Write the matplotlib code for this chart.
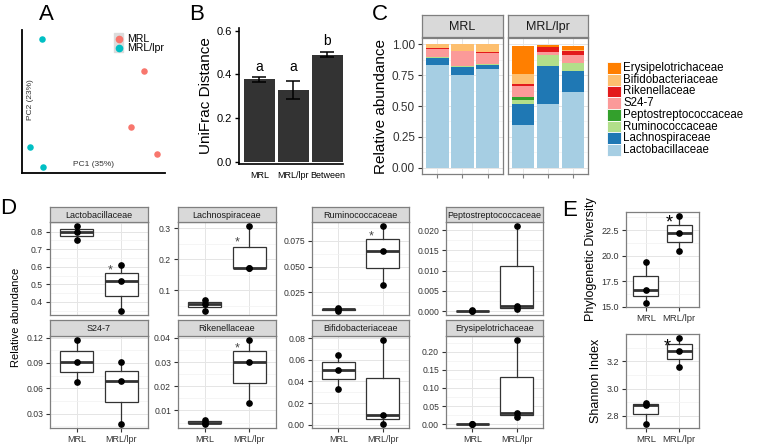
import numpy as np
import matplotlib.pyplot as plt
from matplotlib.patches import Rectangle
from matplotlib.lines import Line2D
from matplotlib import transforms

plt.rcParams['font.family'] = ['Liberation Sans', 'DejaVu Sans']

# ---------------------------------------------------------------------------
# data
# ---------------------------------------------------------------------------
# A: PCoA scores
pc1_mrl = [0.175, 0.13, 0.22]
pc2_mrl = [0.105, -0.09, -0.185]
pc1_lpr = [-0.19, -0.23, -0.185]
pc2_lpr = [0.22, -0.16, -0.23]

# B: UniFrac distances
groups_b = ['MRL', 'MRL/lpr', 'Between']
unifrac_mean = [0.377, 0.329, 0.490]
unifrac_err = [0.012, 0.042, 0.011]
sig_letters = ['a', 'a', 'b']
letter_y = [0.40, 0.40, 0.52]

# C / D: relative abundance per family, 3 mice per strain
families = ['Lactobacillaceae', 'Lachnospiraceae', 'Ruminococcaceae',
            'Peptostreptococcaceae', 'S24-7', 'Rikenellaceae',
            'Bifidobacteriaceae', 'Erysipelotrichaceae']
fam_colors = ['#A6CEE3', '#1F78B4', '#B2DF8A', '#33A02C',
              '#FB9A99', '#E31A1C', '#FDBF6F', '#FF7F00']
strains = ['MRL', 'MRL/lpr']
mrl_vals = {
    'Lactobacillaceae': [0.83, 0.75, 0.80],
    'Lachnospiraceae': [0.055, 0.068, 0.033],
    'Ruminococcaceae': [0.0095, 0.0072, 0.0085],
    'Peptostreptococcaceae': [0.0001, 0.0001, 0.0002],
    'S24-7': [0.067, 0.117, 0.091],
    'Rikenellaceae': [0.0045, 0.006, 0.005],
    'Bifidobacteriaceae': [0.033, 0.051, 0.064],
    'Erysipelotrichaceae': [0.0012, 0.0008, 0.001],
}
lpr_vals = {
    'Lactobacillaceae': [0.35, 0.52, 0.61],
    'Lachnospiraceae': [0.170, 0.306, 0.172],
    'Ruminococcaceae': [0.032, 0.089, 0.065],
    'Peptostreptococcaceae': [0.021, 0.0013, 0.0005],
    'S24-7': [0.091, 0.018, 0.069],
    'Rikenellaceae': [0.013, 0.039, 0.030],
    'Bifidobacteriaceae': [0.078, 0.001, 0.009],
    'Erysipelotrichaceae': [0.232, 0.019, 0.030],
}
d_order = ['Lactobacillaceae', 'Lachnospiraceae', 'Ruminococcaceae',
           'Peptostreptococcaceae', 'S24-7', 'Rikenellaceae',
           'Bifidobacteriaceae', 'Erysipelotrichaceae']
d_ticks = {
    'Lactobacillaceae': ['0.4', '0.5', '0.6', '0.7', '0.8'],
    'Lachnospiraceae': ['0.1', '0.2', '0.3'],
    'Ruminococcaceae': ['0.025', '0.050', '0.075'],
    'Peptostreptococcaceae': ['0.000', '0.005', '0.010', '0.015', '0.020'],
    'S24-7': ['0.03', '0.06', '0.09', '0.12'],
    'Rikenellaceae': ['0.01', '0.02', '0.03', '0.04'],
    'Bifidobacteriaceae': ['0.00', '0.02', '0.04', '0.06', '0.08'],
    'Erysipelotrichaceae': ['0.00', '0.05', '0.10', '0.15', '0.20'],
}
# significance stars (x, y) in D
d_stars = {
    'Lactobacillaceae': (1.75, 0.60),
    'Lachnospiraceae': (1.73, 0.265),
    'Ruminococcaceae': (1.74, 0.0827),
    'Rikenellaceae': (1.73, 0.0372),
}

# E: alpha diversity
pd_mrl = [19.35, 16.67, 15.4]
pd_lpr = [23.86, 22.24, 20.5]
pd_ticks = ['15.0', '17.5', '20.0', '22.5']
sh_mrl = [2.896, 2.879, 2.742]
sh_lpr = [3.368, 3.277, 3.159]
sh_ticks = ['2.8', '3.0', '3.2']
e_stars = [(1.7, 23.75), (1.65, 3.345)]

# ---------------------------------------------------------------------------
W, H = 760, 448
fig = plt.figure(figsize=(W / 100, H / 100), dpi=100)

DARK = '#333333'
BORDER = '#7F7F7F'
STRIPFILL = '#D9D9D9'


def rect(x0, y0, x1, y1):
    return [x0 / W, 1 - y1 / H, (x1 - x0) / W, (y1 - y0) / H]


def bw_axes(box):
    ax = fig.add_axes(rect(*box))
    ax.set_facecolor('white')
    for s in ax.spines.values():
        s.set_color(BORDER)
        s.set_linewidth(0.9)
    ax.set_axisbelow(True)
    return ax


def strip(box, label, fs):
    sax = fig.add_axes(rect(*box))
    sax.set_facecolor(STRIPFILL)
    sax.set_xticks([])
    sax.set_yticks([])
    for s in sax.spines.values():
        s.set_color(BORDER)
        s.set_linewidth(0.9)
    sax.text(0.5, 0.45, label, ha='center', va='center', fontsize=fs,
             color='#1a1a1a', transform=sax.transAxes)


def bw_grid(ax, ticks, lim):
    ticks = np.array(ticks)
    minor = (ticks[:-1] + ticks[1:]) / 2
    step = ticks[1] - ticks[0]
    minor = np.concatenate([[ticks[0] - step / 2], minor, [ticks[-1] + step / 2]])
    minor = minor[(minor > lim[0]) & (minor < lim[1])]
    for m in minor:
        ax.axhline(m, color='#F2F2F2', lw=0.5, zorder=0)
    for t in ticks:
        ax.axhline(t, color='#E5E5E5', lw=0.7, zorder=0)


def star(ax, x, y, fs, color):
    tr = transforms.offset_copy(ax.transData, fig=fig, y=-0.55 * fs, units='points')
    ax.text(x, y, '*', ha='center', va='baseline', fontsize=fs, color=color,
            transform=tr)


def boxes(ax, a, b):
    ax.boxplot([a, b], positions=[1, 2], widths=0.75, patch_artist=True,
               showcaps=False, showfliers=False, whis=(0, 100),
               medianprops=dict(color=DARK, lw=2.0),
               boxprops=dict(facecolor='white', edgecolor=DARK, lw=0.9),
               whiskerprops=dict(color=DARK, lw=0.9), zorder=2)
    for i, v in enumerate([a, b]):
        ax.plot([i + 1] * len(v), v, 'o', color='black', ms=3.8, zorder=3)
    ax.set_xlim(0.4, 2.6)
    for xx in [1, 2]:
        ax.axvline(xx, color='#E5E5E5', lw=0.7, zorder=0)


def letter(x, y, s):
    fig.text(x / W, 1 - y / H, s, fontsize=16, ha='center', va='center')


# ---------------------------------------------------------------------------
# A
axA = fig.add_axes(rect(22, 30, 165, 173))
axA.scatter(pc1_mrl, pc2_mrl, s=22, color='#F8766D', lw=0)
axA.scatter(pc1_lpr, pc2_lpr, s=22, color='#00BFC4', lw=0)
axA.set_xlim(-0.26, 0.25)
axA.set_ylim(-0.25, 0.25)
axA.set_xticks([])
axA.set_yticks([])
for s in ['top', 'right']:
    axA.spines[s].set_visible(False)
for s in ['left', 'bottom']:
    axA.spines[s].set_linewidth(1.3)
axA.text(0.5, 0.058, 'PC1 (35%)', transform=axA.transAxes, ha='center',
         va='center', fontsize=6, color=DARK)
axA.text(0.058, 0.51, 'PC2 (23%)', transform=axA.transAxes, ha='center',
         va='center', fontsize=6, rotation=90, color=DARK)
fig.patches.append(Rectangle((113.5 / W, 1 - 52.5 / H), 10 / W, 19 / H,
                             transform=fig.transFigure, color='#DCDCDC'))
for i, (lab, col) in enumerate(zip(strains, ['#F8766D', '#00BFC4'])):
    yy = 38.8 + i * 8.8
    fig.add_artist(Line2D([118.5 / W], [1 - yy / H], marker='o', ms=4.5,
                          color=col, lw=0, transform=fig.transFigure))
    fig.text(127 / W, 1 - (yy + 0.6) / H, lab, fontsize=7.6, va='center',
             ha='left')
letter(46, 15, 'A')

# B
axB = fig.add_axes(rect(239, 28, 343, 164))
xb = np.arange(1, len(groups_b) + 1)
axB.bar(xb, unifrac_mean, width=0.9, color='#333333', zorder=2)
axB.errorbar(xb, unifrac_mean, yerr=unifrac_err, fmt='none', ecolor='black',
             capsize=5, elinewidth=1.1, capthick=1.1, zorder=3)
for x, y, s in zip(xb, letter_y, sig_letters):
    axB.text(x, y, s, ha='center', va='bottom', fontsize=10)
axB.set_xlim(0.4, 3.46)
axB.set_ylim(-0.011, 0.612)
axB.set_yticks([0, 0.2, 0.4, 0.6])
axB.set_yticklabels(['0.0', '0.2', '0.4', '0.6'])
axB.set_xticks(xb)
axB.set_xticklabels(groups_b)
axB.tick_params(axis='y', labelsize=8, length=3, width=1, pad=2)
axB.tick_params(axis='x', labelsize=6.5, length=0, pad=5)
for s in ['top', 'right']:
    axB.spines[s].set_visible(False)
for s in ['left', 'bottom']:
    axB.spines[s].set_linewidth(1.2)
axB.set_ylabel('UniFrac Distance', fontsize=11, labelpad=3)
letter(197, 15, 'B')

# C
c_boxes = [(422, 38, 503, 174), (508, 38, 588, 174)]
c_data = [mrl_vals, lpr_vals]
for k, (box, vals, lab) in enumerate(zip(c_boxes, c_data, strains)):
    ax = bw_axes(box)
    xs = np.arange(1, 4)
    bottom = np.zeros(3)
    for fam, col in zip(families, fam_colors):
        v = np.array(vals[fam])
        ax.bar(xs, v, bottom=bottom, width=0.9, color=col, zorder=2, lw=0)
        bottom += v
    ax.set_xlim(0.4, 3.6)
    ax.set_ylim(-0.05, 1.05)
    bw_grid(ax, [0, 0.25, 0.5, 0.75, 1.0], (-0.05, 1.05))
    for xx in xs:
        ax.axvline(xx, color='#E5E5E5', lw=0.7, zorder=0)
    ax.set_xticks(xs)
    ax.set_xticklabels([])
    ax.tick_params(axis='x', length=3, color='#7F7F7F')
    ax.set_yticks([0, 0.25, 0.5, 0.75, 1.0])
    if k == 0:
        ax.set_yticklabels(['0.00', '0.25', '0.50', '0.75', '1.00'])
        ax.tick_params(axis='y', labelsize=8.5, length=3, color=DARK, pad=2,
                       labelcolor='#333333')
        ax.set_ylabel('Relative abundance', fontsize=11, labelpad=3)
    else:
        ax.tick_params(axis='y', length=0, labelleft=False)
    strip((box[0], 15, box[2], 37), lab, 9)
letter(380, 15, 'C')

# C legend (top entry = last family)
for i, (fam, col) in enumerate(zip(families[::-1], fam_colors[::-1])):
    yc = 68 + i * 11.7
    fig.patches.append(Rectangle((607 / W, 1 - (yc + 5.85) / H), 14 / W, 11.7 / H,
                                 transform=fig.transFigure, facecolor=col,
                                 edgecolor='white', lw=0.6))
    fig.text(623 / W, 1 - yc / H, fam, fontsize=8.3, va='center', ha='left')

# D
d_cols = [(50, 148), (178, 276), (312, 409), (446, 543)]
d_rows = [(207, 222, 315), (320, 336, 428)]
for idx, fam in enumerate(d_order):
    r, c = divmod(idx, 4)
    x0, x1 = d_cols[c]
    s0, p0, p1 = d_rows[r]
    ax = bw_axes((x0, p0, x1, p1))
    a, b = mrl_vals[fam], lpr_vals[fam]
    allv = a + b
    lo, hi = min(allv), max(allv)
    pad = 0.05 * (hi - lo)
    lim = (lo - pad, hi + pad)
    boxes(ax, a, b)
    ax.set_ylim(*lim)
    labels = d_ticks[fam]
    tv = [float(t) for t in labels]
    bw_grid(ax, tv, lim)
    ax.set_yticks(tv)
    ax.set_yticklabels(labels)
    ax.set_xticks([1, 2])
    if r == 1:
        ax.set_xticklabels(strains)
        ax.tick_params(axis='x', labelsize=6.5, length=3, color=DARK, pad=2,
                       labelcolor='#333333')
    else:
        ax.set_xticklabels([])
        ax.tick_params(axis='x', length=0)
    ax.tick_params(axis='y', labelsize=6.2, length=3, color=DARK, pad=2,
                   labelcolor='#333333')
    if fam in d_stars:
        sx, sy = d_stars[fam]
        star(ax, sx, sy, 9, '#444444')
    strip((x0, s0, x1, p0), fam, 6.5)
fig.text(16 / W, 1 - 317 / H, 'Relative abundance', rotation=90, ha='center',
         va='center', fontsize=8)
letter(8, 208, 'D')

# E
e_sets = [(pd_mrl, pd_lpr, pd_ticks, 'Phylogenetic Diversity', (626, 212, 699, 307)),
          (sh_mrl, sh_lpr, sh_ticks, 'Shannon Index', (626, 334, 699, 428))]
for (a, b, labels, name, box), (sx, sy) in zip(e_sets, e_stars):
    ax = bw_axes(box)
    allv = a + b
    lo, hi = min(allv), max(allv)
    pad = 0.05 * (hi - lo)
    lim = (lo - pad, hi + pad)
    boxes(ax, a, b)
    ax.set_ylim(*lim)
    tv = [float(t) for t in labels]
    bw_grid(ax, tv, lim)
    ax.set_yticks(tv)
    ax.set_yticklabels(labels)
    ax.set_xticks([1, 2])
    ax.set_xticklabels(strains)
    ax.tick_params(axis='both', labelsize=6.8, length=3, color=DARK, pad=2,
                   labelcolor='#333333')
    ax.tick_params(axis='y', labelsize=6.5)
    ax.set_ylabel(name, fontsize=9, labelpad=3)
    star(ax, sx, sy, 13, 'black')
letter(570, 210, 'E')

fig.savefig('out.png', dpi=100)
